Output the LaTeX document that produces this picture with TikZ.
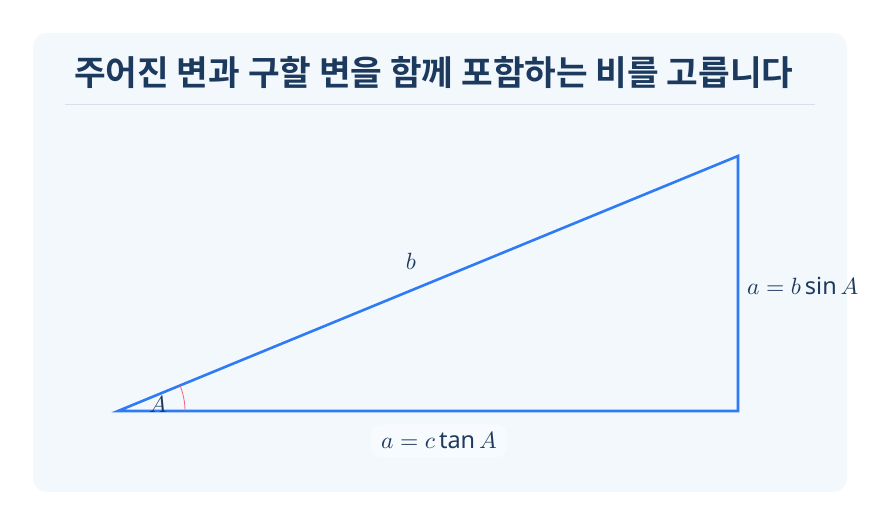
\documentclass[tikz,border=0pt]{standalone}
\usepackage{graphicx}
\usepackage{fontspec}
\newfontfamily\cjk{Noto Sans CJK KR Bold}
\newfontfamily\opfont{Noto Sans}
\definecolor{cardbg}{HTML}{F3F8FD}
\definecolor{titlec}{HTML}{1C3A5E}
\definecolor{rulec}{HTML}{D6E0EB}
\definecolor{tri}{HTML}{2F7BF5}
\definecolor{arcc}{HTML}{EE6478}
\definecolor{labc}{HTML}{1E3A5F}
\newcommand{\myop}[1]{\mathop{\mbox{\opfont #1}}\nolimits}
\newcommand{\lblmath}[1]{\scalebox{2.35}{\fontsize{10}{12}\selectfont$#1$}}
\tikzset{
  lab/.style={text=labc, inner sep=2pt},
  side/.style={draw=tri, line width=2.6pt, line join=miter},
}
\begin{document}
\begin{tikzpicture}[x=1pt,y=-1pt]
\useasboundingbox (0,0) rectangle (881,526);
\fill[white] (0,0) rectangle (881,526);
\fill[cardbg, rounded corners=14pt] (33,33) rectangle (847,492);
\node[anchor=west, text=titlec, font=\cjk\fontsize{34.4}{40}\selectfont, inner sep=0pt] (title) at (74,73) {주어진 변과 구할 변을 함께 포함하는 비를 고릅니다};
\coordinate (r1) at (65,104.5);
\coordinate (r2) at (815,104.5);
\draw[rulec, line width=0.8pt] (r1) -- (r2);
\coordinate (A) at (118,411);
\coordinate (C) at (738,411);
\coordinate (B) at (738,156);
\draw[side] (A) -- (C) -- (B) -- cycle;
\draw[arcc, line width=0.8pt] ([shift={(67,0)}]A) arc[start angle=0, end angle=-22.35, radius=67];
\node[lab] (lA) at (158,404) {\lblmath{A}};
\node[lab] (lb) at (411,261) {\lblmath{b}};
\node[lab, anchor=west] (la) at (745,286) {\lblmath{a=b\myop{sin}A}};
\node[lab, fill=white!40!cardbg, rounded corners=10pt, minimum height=33pt, inner xsep=10pt] (lc) at (439,441) {\lblmath{a=c\myop{tan}A}};
\end{tikzpicture}
\end{document}
